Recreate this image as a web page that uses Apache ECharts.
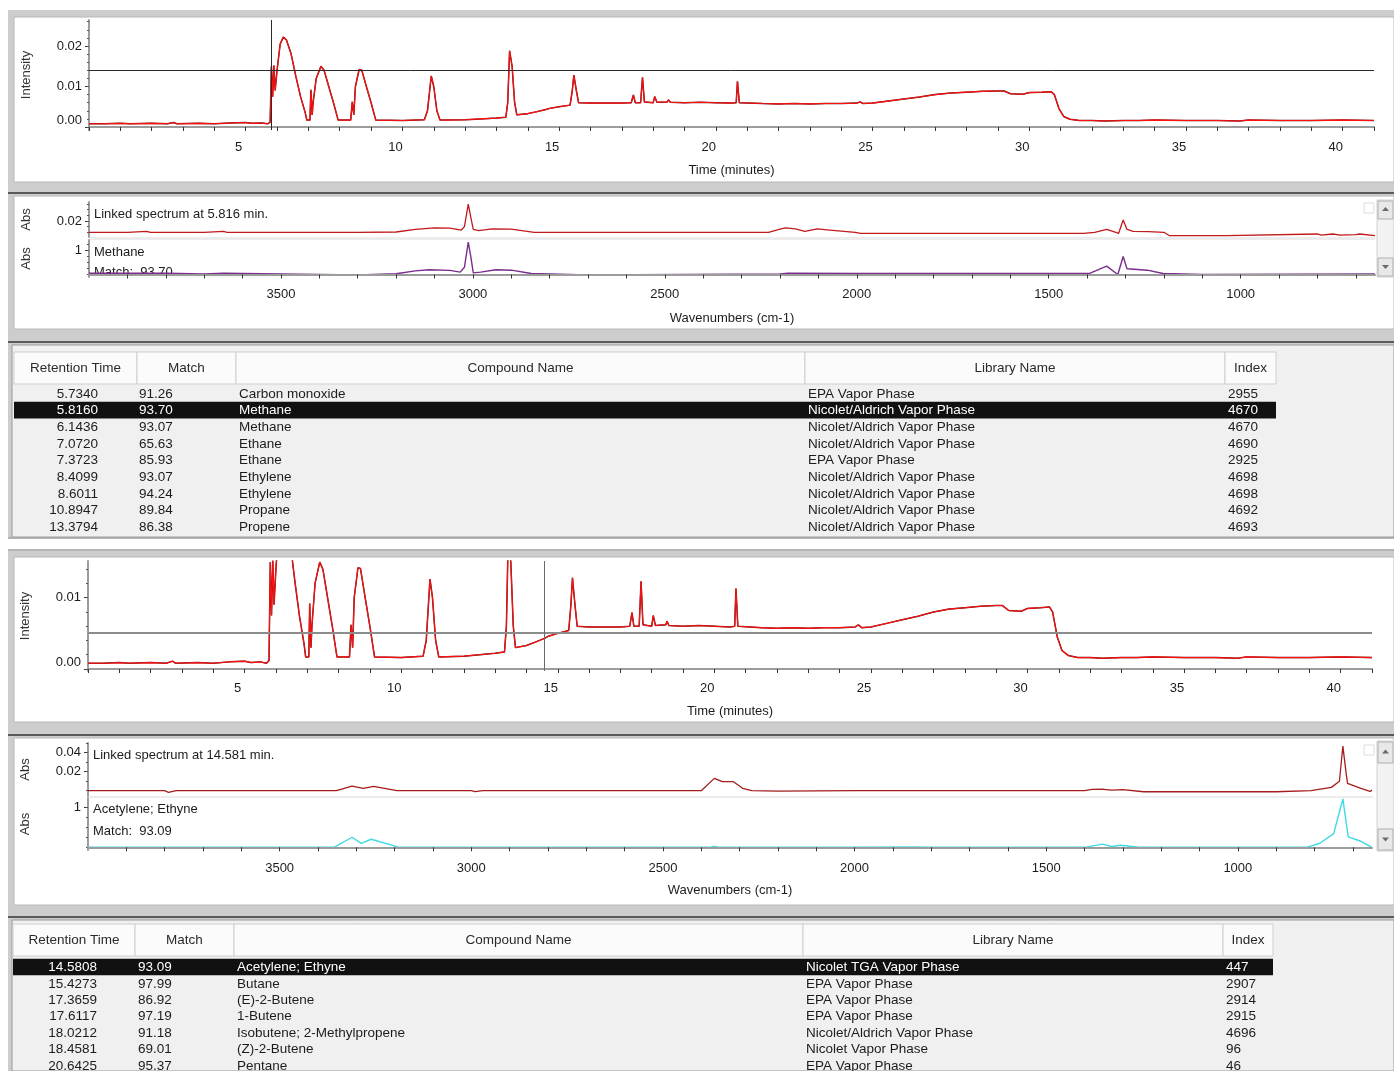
<!DOCTYPE html>
<html><head><meta charset="utf-8">
<script src="https://cdn.jsdelivr.net/npm/echarts@6.0.0/dist/echarts.min.js"></script>
<style>html,body{margin:0;padding:0;background:#fff;overflow:hidden}#c{width:1394px;height:1071px}</style>
</head><body><div id="c"></div>
<script>
// ---------------- DATA ----------------
const chromTime = [0.0,0.5,1.0,1.3,2.0,2.5,2.7,2.8,3.5,4.0,4.5,5.0,5.2,5.5,5.7,5.78,5.82,5.86,5.90,5.94,6.00,6.10,6.20,6.30,6.45,6.60,6.75,6.90,6.95,7.05,7.08,7.12,7.15,7.25,7.40,7.50,7.65,7.80,7.95,8.35,8.40,8.45,8.50,8.62,8.70,8.85,9.00,9.15,10.0,10.7,10.80,10.92,11.00,11.10,11.20,12.0,12.5,13.0,13.3,13.36,13.42,13.50,13.58,13.65,14.0,14.3,14.58,14.7,15.0,15.35,15.42,15.47,15.55,15.62,16.0,16.5,17.0,17.3,17.37,17.43,17.60,17.66,17.72,18.00,18.05,18.12,18.45,18.49,18.55,19.0,19.5,20.0,20.5,20.65,20.69,20.75,21.5,22.0,22.5,23.0,23.5,24.0,24.5,24.6,24.7,25.0,25.5,26.0,26.5,27.0,27.5,28.0,28.5,29.0,29.2,29.4,29.8,30.0,30.4,30.7,30.8,30.95,31.1,31.3,31.6,32.0,32.4,33.0,33.5,34.0,35.0,36.0,36.7,37.0,38.0,39.0,40.0,41.0];
const chromIntensity = [0.0008,0.0008,0.0009,0.0008,0.0009,0.0008,0.0011,0.0008,0.0009,0.0008,0.0010,0.0011,0.0009,0.0010,0.0008,0.0012,0.0150,0.0075,0.0152,0.0090,0.0140,0.0205,0.0222,0.0215,0.0180,0.0125,0.0075,0.0035,0.0017,0.0017,0.0092,0.0030,0.0060,0.0120,0.0150,0.0140,0.0100,0.0060,0.0017,0.0017,0.0062,0.0030,0.0100,0.0142,0.0141,0.0100,0.0060,0.0017,0.0016,0.0018,0.0040,0.0126,0.0100,0.0040,0.0017,0.0018,0.0020,0.0022,0.0024,0.0060,0.0188,0.0150,0.0060,0.0030,0.0033,0.0038,0.0043,0.0046,0.0050,0.0054,0.0090,0.0128,0.0090,0.0060,0.0059,0.0059,0.0059,0.0060,0.0079,0.0060,0.0060,0.0123,0.0062,0.0060,0.0075,0.0061,0.0062,0.0067,0.0061,0.0060,0.0061,0.0060,0.0059,0.0060,0.0113,0.0060,0.0058,0.0057,0.0058,0.0057,0.0058,0.0058,0.0059,0.0062,0.0058,0.0059,0.0064,0.0069,0.0074,0.0080,0.0084,0.0086,0.0088,0.0089,0.0089,0.0082,0.0081,0.0085,0.0086,0.0087,0.0080,0.0045,0.0026,0.0019,0.0016,0.0016,0.0015,0.0016,0.0016,0.0017,0.0016,0.0016,0.0015,0.0017,0.0016,0.0016,0.0017,0.0016];

const spec1Wn     = [4000,3900,3850,3840,3700,3650,3640,3300,3200,3150,3100,3060,3030,3022,3012,3005,2999,2985,2950,2900,2840,2440,2230,2200,2185,2160,2135,2103,2070,2004,1990,1410,1380,1349,1325,1318,1306,1296,1280,1240,1200,1185,1035,1030,800,790,760,740,700,690,650];
const spec1Sample = [0,0,0.0015,0,0,0.0015,0,0,0.0005,0.005,0.008,0.0075,0.004,0.010,0.050,0.025,0.005,0.003,0.006,0.0055,0,0,0,0.0055,0.008,0.006,0.0015,0.006,0.004,0,-0.002,-0.002,0,0.0053,0,-0.002,0.0218,0.005,0.0018,0.0012,0,-0.006,-0.006,-0.003,-0.003,-0.005,-0.003,-0.005,-0.004,-0.003,-0.006];
const spec1LibWn  = [4000,3800,3700,3650,3300,3200,3150,3114,3060,3033,3022,3012,3005,2999,2980,2940,2900,2848,2700,2200,2180,2000,1395,1349,1320,1306,1296,1278,1243,1202,1100,650];
const spec1Lib    = [0.05,0.05,0.02,0.05,-0.02,0.03,0.15,0.2,0.17,0.1,0.3,1.35,0.7,0.07,0.1,0.2,0.18,0.04,-0.02,0.02,0.05,0.04,0.04,0.35,0,0.75,0.24,0.22,0.18,0.04,0,0.02];

const spec2Wn     = [4000,3800,3790,3770,3352,3311,3282,3255,3194,3000,2990,2970,2400,2366,2345,2316,2292,2268,2200,2000,1400,1380,1350,1329,1300,1246,900,809,756,735,726,718,714,679,655,650];
const spec2Sample = [0,0,-0.0018,0,0,0.0049,0.0025,0.0046,0,0,-0.001,0,0,0.013,0.0095,0.0095,0.0025,0,-0.0005,0,0,0.0014,0.0015,0.0005,0.0012,-0.0011,-0.0011,0,0.0035,0.010,0.047,0.020,0.0078,0.0025,-0.0008,0.0006];
const spec2LibWn  = [4000,3358,3311,3287,3261,3188,2380,2366,2350,2000,1850,1800,1400,1353,1329,1305,1258,821,786,750,726,712,679,650];
const spec2Lib    = [0,0,0.25,0.10,0.20,0,0,0.02,0,0,0.01,0,0,0.08,0.02,0.05,0,0,0.10,0.34,1.2,0.26,0.15,0];

const chromXLabels = [5,10,15,20,25,30,35,40];
const chrom1YLabels = [0,0.01,0.02];
const chrom2YLabels = [0,0.01];
const specXLabels = [3500,3000,2500,2000,1500,1000];
const spec1TopYLabels = [0.02];
const spec2TopYLabels = [0.02,0.04];
const libYLabels = [1];

const chrom1Cursor = {time:5.816, level:0.0141};
const chrom2Cursor = {time:14.581, level:0.0051};
const spec1Title = 'Linked spectrum at 5.816 min.';
const spec1Compound = 'Methane';
const spec1Match = 'Match:  93.70';
const spec2Title = 'Linked spectrum at 14.581 min.';
const spec2Compound = 'Acetylene; Ethyne';
const spec2Match = 'Match:  93.09';

const tableHeaders = ['Retention Time','Match','Compound Name','Library Name','Index'];
const t1RT = ['5.7340','5.8160','6.1436','7.0720','7.3723','8.4099','8.6011','10.8947','13.3794'];
const t1Match = ['91.26','93.70','93.07','65.63','85.93','93.07','94.24','89.84','86.38'];
const t1Compound = ['Carbon monoxide','Methane','Methane','Ethane','Ethane','Ethylene','Ethylene','Propane','Propene'];
const t1Library = ['EPA Vapor Phase','Nicolet/Aldrich Vapor Phase','Nicolet/Aldrich Vapor Phase','Nicolet/Aldrich Vapor Phase','EPA Vapor Phase','Nicolet/Aldrich Vapor Phase','Nicolet/Aldrich Vapor Phase','Nicolet/Aldrich Vapor Phase','Nicolet/Aldrich Vapor Phase'];
const t1Index = ['2955','4670','4670','4690','2925','4698','4698','4692','4693'];
const t1Selected = 1;
const t2RT = ['14.5808','15.4273','17.3659','17.6117','18.0212','18.4581','20.6425'];
const t2Match = ['93.09','97.99','86.92','97.19','91.18','69.01','95.37'];
const t2Compound = ['Acetylene; Ethyne','Butane','(E)-2-Butene','1-Butene','Isobutene; 2-Methylpropene','(Z)-2-Butene','Pentane'];
const t2Library = ['Nicolet TGA Vapor Phase','EPA Vapor Phase','EPA Vapor Phase','EPA Vapor Phase','Nicolet/Aldrich Vapor Phase','Nicolet Vapor Phase','EPA Vapor Phase'];
const t2Index = ['447','2907','2914','2915','4696','96','46'];
const t2Selected = 0;

// ---------------- BUILD ----------------
const FONT = '"Liberation Sans", Arial, sans-serif';
const TXT = '#1c1c1c';
const pairs = (xs, ys) => xs.map((x, i) => [x, ys[i]]);
const range = (a, b, s) => { const r = []; for (let v = a; v <= b + 1e-9; v += s) r.push(+v.toFixed(6)); return r; };

const grids = [
  {left: 89, top: 20, width: 1285, height: 110},
  {left: 89, top: 202, width: 1286, height: 35},
  {left: 89, top: 240, width: 1286, height: 37},
  {left: 88, top: 561, width: 1284, height: 110},
  {left: 88, top: 743, width: 1284, height: 53},
  {left: 88, top: 798, width: 1284, height: 52}
];
const yRanges = [
  [-0.00074, 0.02642], [-0.00832, 0.05363], [-0.104, 1.4375],
  [-0.00028, 0.015147], [-0.00558, 0.05021], [-0.0665, 1.2241]
];
const yLabelVals = [chrom1YLabels, spec1TopYLabels, libYLabels, chrom2YLabels, spec2TopYLabels, libYLabels];
const yMinor = [range(0, 0.026, 0.002), range(0, 0.05, 0.01), range(0, 1.25, 0.25), range(0, 0.014, 0.002), range(0, 0.05, 0.01), range(0, 1.0, 0.25)];
const yNames = ['Intensity', 'Abs', 'Abs', 'Intensity', 'Abs', 'Abs'];
const yFmt = [v => v.toFixed(2), v => v.toFixed(2), v => String(v), v => v.toFixed(2), v => v.toFixed(2), v => String(v)];

const axisLineGray = {show: true, lineStyle: {color: '#9c9c9c', width: 2}};

const yAxes = [];
grids.forEach((g, i) => {
  yAxes.push({
    type: 'value', gridIndex: i, position: 'left', min: yRanges[i][0], max: yRanges[i][1],
    name: yNames[i], nameLocation: 'middle', nameGap: 56, nameRotate: 90,
    nameTextStyle: {fontFamily: FONT, fontSize: 13, color: '#333'},
    axisLine: axisLineGray, splitLine: {show: false},
    axisTick: {show: true, customValues: yLabelVals[i], length: 4, lineStyle: {color: '#333'}},
    axisLabel: {show: true, customValues: yLabelVals[i], margin: 7, fontFamily: FONT, fontSize: 13, color: TXT,
      formatter: v => (v === 0 ? '{lo|' + yFmt[i](v) + '}' : yFmt[i](v)),
      rich: {lo: {fontFamily: FONT, fontSize: 13, color: TXT, padding: [0, 0, 14, 0]}}}
  });
});
grids.forEach((g, i) => {
  yAxes.push({
    type: 'value', gridIndex: i, position: 'left', min: yRanges[i][0], max: yRanges[i][1],
    axisLine: {show: false}, splitLine: {show: false}, axisLabel: {show: false},
    axisTick: {show: true, customValues: yMinor[i], length: 2, lineStyle: {color: '#555'}}
  });
});

const chromTicks = range(0, 41, 1);
const specTicks = range(700, 3900, 100);
function chromX(gi) {
  return {type: 'value', gridIndex: gi, min: 0, max: 41,
    name: 'Time (minutes)', nameLocation: 'middle', nameGap: 34,
    nameTextStyle: {fontFamily: FONT, fontSize: 13, color: TXT},
    axisLine: axisLineGray, splitLine: {show: false},
    axisTick: {show: true, customValues: chromTicks, length: 4, lineStyle: {color: '#333'}},
    axisLabel: {customValues: chromXLabels, margin: 11, fontFamily: FONT, fontSize: 13, color: TXT, padding: [0, 14, 0, 0],
      formatter: v => String(v)}};
}
function specX(gi, shown, gap, margin) {
  return {type: 'value', gridIndex: gi, min: 650, max: 4000, inverse: true, show: shown,
    name: 'Wavenumbers (cm-1)', nameLocation: 'middle', nameGap: gap,
    nameTextStyle: {fontFamily: FONT, fontSize: 13, color: TXT},
    axisLine: axisLineGray, splitLine: {show: false}, z: 5,
    axisTick: {show: true, customValues: specTicks, length: 4, lineStyle: {color: '#333'}},
    axisLabel: {customValues: specXLabels, margin: margin, fontFamily: FONT, fontSize: 13, color: TXT,
      formatter: v => String(v)}};
}
const xAxes = [chromX(0), specX(1, false, 35, 11), specX(2, true, 35, 11), chromX(3), specX(4, false, 34, 12), specX(5, true, 34, 12)];

const chromPts = pairs(chromTime, chromIntensity);
function chromSeries(gi, cursor, hColor, hWidth, vColor) {
  return [
    {type: 'line', xAxisIndex: gi, yAxisIndex: gi, data: chromPts, showSymbol: false, silent: true,
      lineStyle: {color: '#6a1414', width: 1.5}, z: 2},
    {type: 'line', xAxisIndex: gi, yAxisIndex: gi, data: chromPts, showSymbol: false, silent: true,
      lineStyle: {color: '#ff1010', width: 1.1}, z: 3,
      markLine: {silent: true, symbol: 'none', precision: 8, label: {show: false}, animation: false,
        data: [
          {yAxis: cursor.level, lineStyle: {color: hColor, width: hWidth, type: 'solid'}},
          {xAxis: cursor.time, lineStyle: {color: vColor, width: 1, type: 'solid'}}
        ]}}
  ];
}
function specSeries(gi, xs, ys, color, width) {
  return {type: 'line', xAxisIndex: gi, yAxisIndex: gi, data: pairs(xs, ys), showSymbol: false, silent: true,
    lineStyle: {color: color, width: width}, z: 3};
}
const series = [
  ...chromSeries(0, chrom1Cursor, '#2a2a2a', 1, '#2a2a2a'),
  specSeries(1, spec1Wn, spec1Sample, '#c01a1a', 1.3),
  specSeries(2, spec1LibWn, spec1Lib, '#7a2d8c', 1.4),
  ...chromSeries(3, chrom2Cursor, '#8c8c8c', 2, '#6a6a6a'),
  specSeries(4, spec2Wn, spec2Sample, '#a51c1c', 1.3),
  specSeries(5, spec2LibWn, spec2Lib, '#3fd9e6', 1.4)
];

// ---------------- GRAPHIC (frames, tables, texts) ----------------
const G = [];
const rect = (x, y, w, h, fill, stroke, z) => G.push({type: 'rect', z: z || -5, silent: true,
  shape: {x, y, width: w, height: h}, style: {fill: fill, stroke: stroke || null, lineWidth: 1}});
const text = (x, y, s, opt) => G.push({type: 'text', z: (opt && opt.z) || 1, silent: true,
  style: Object.assign({x, y, text: s, font: '13px ' + FONT, fill: TXT,
    align: 'left', verticalAlign: 'middle', textAlign: 'left', textVerticalAlign: 'middle'}, opt || {})});
const TFONT = '13.5px ' + FONT;

// outer gray frame
rect(8, 10, 1386, 1061, '#cdcdcd');
rect(0, 538, 1394, 11, '#ffffff');
rect(8, 537, 1386, 2, '#b4b4b4');
rect(8, 549, 1386, 2, '#b4b4b4');
// panels
rect(14, 17, 1380, 165, '#ffffff', '#b8b8b8');
rect(14, 196, 1380, 133, '#ffffff', '#b8b8b8');
rect(12, 345, 1382, 192, '#f0f0f0', '#9a9a9a');
rect(14, 557, 1380, 165, '#ffffff', '#b8b8b8');
rect(14, 738, 1380, 167, '#ffffff', '#b8b8b8');
rect(12, 920, 1382, 151, '#f0f0f0', '#9a9a9a');
// dark separator lines
rect(8, 192, 1386, 2, '#5a5a5a');
rect(8, 341, 1386, 2, '#5a5a5a');
rect(8, 734, 1386, 2, '#5a5a5a');
rect(8, 916, 1386, 2, '#5a5a5a');
// light separators between stacked spectra
rect(90, 237, 1285, 3, '#ececec', null, 0);
rect(89, 796, 1284, 2, '#ececec', null, 0);

// scroll bars
function scrollbar(x, y1, y2, btn) {
  rect(x, y1, 17, y2 - y1, '#f2f2f2', '#d0d0d0', 0);
  rect(x + 1, y1 + 1, 15, btn, '#e8e8e8', '#b0b0b0', 0);
  rect(x + 1, y2 - btn - 1, 15, btn, '#e8e8e8', '#b0b0b0', 0);
  const cx = x + 8.5;
  G.push({type: 'polygon', z: 1, silent: true, shape: {points: [[cx - 3.5, y1 + btn / 2 + 2], [cx + 3.5, y1 + btn / 2 + 2], [cx, y1 + btn / 2 - 2]]}, style: {fill: '#6a6a6a'}});
  G.push({type: 'polygon', z: 1, silent: true, shape: {points: [[cx - 3.5, y2 - btn / 2 - 3], [cx + 3.5, y2 - btn / 2 - 3], [cx, y2 - btn / 2 + 1]]}, style: {fill: '#6a6a6a'}});
}
scrollbar(1377, 200, 277, 18);
scrollbar(1377, 741, 851, 21);
rect(1364, 203, 10, 10, null, '#dcdcdc', 0);
rect(1364, 745, 10, 10, null, '#dcdcdc', 0);

// spectrum annotations
text(94, 214, spec1Title);
text(94, 252, spec1Compound);
text(94, 272, spec1Match, {z: 1});
rect(89, 278, 200, 8, '#ffffff', null, 2);
text(93, 755, spec2Title);
text(93, 809, spec2Compound);
text(93, 831, spec2Match);

// tables
function table(cols, hy1, hy2, rowY0, rowH, rows, selected, aligns, textX) {
  for (let c = 0; c < cols.length - 1; c++) {
    rect(cols[c], hy1, cols[c + 1] - cols[c], hy2 - hy1, '#fbfbfb', '#cfcfcf', -1);
    text((cols[c] + cols[c + 1]) / 2, (hy1 + hy2) / 2, tableHeaders[c], {align: 'center', textAlign: 'center', fill: '#2a2a2a', font: TFONT});
  }
  const n = rows[0].length;
  for (let r = 0; r < n; r++) {
    const cy = rowY0 + r * rowH;
    const sel = r === selected;
    if (sel) rect(cols[0], cy - rowH / 2 - 0.5, cols[cols.length - 1] - cols[0], rowH, '#111111', null, -1);
    rows.forEach((col, c) => {
      const o = {fill: sel ? '#ffffff' : TXT, font: TFONT};
      if (aligns[c] === 'right') { o.align = 'right'; o.textAlign = 'right'; }
      text(textX[c], cy, col[r], o);
    });
  }
}
table([14, 137, 236, 805, 1225, 1276], 352, 384, 394, 16.67,
  [t1RT, t1Match, t1Compound, t1Library, t1Index], t1Selected,
  ['right', 'left', 'left', 'left', 'left'], [98, 139, 239, 808, 1228]);
table([13, 135, 234, 803, 1223, 1273], 924, 956, 967.5, 16.4,
  [t2RT, t2Match, t2Compound, t2Library, t2Index], t2Selected,
  ['right', 'left', 'left', 'left', 'left'], [97, 138, 237, 806, 1226]);

const chart = echarts.init(document.getElementById('c'), null, {renderer: 'canvas'});
chart.setOption({
  animation: false,
  backgroundColor: '#ffffff',
  grid: grids,
  xAxis: xAxes,
  yAxis: yAxes,
  series: series,
  graphic: {elements: G}
});
</script></body></html>
